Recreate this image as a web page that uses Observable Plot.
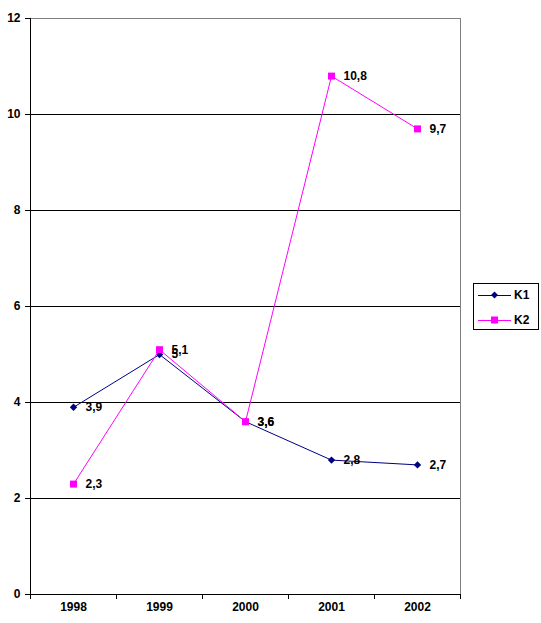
<!DOCTYPE html>
<html>
<head>
<meta charset="utf-8">
<script src="https://cdn.jsdelivr.net/npm/d3@7"></script>
<script src="https://cdn.jsdelivr.net/npm/@observablehq/plot@0.6"></script>
<style>
  html, body { margin: 0; padding: 0; background: #fff; }
  #wrap { position: relative; width: 541px; height: 623px; font-family: "Liberation Sans", Arial, sans-serif; }
  #legend { position: absolute; left: 473px; top: 283px; width: 64px; height: 45px; border: 1px solid #000; background: #fff; }
  .item { position: absolute; left: 4px; height: 14px; display: flex; align-items: center; font-weight: bold; font-size: 12px; color: #000; }
  .item svg { margin-right: 2px; }
</style>
</head>
<body>
<div id="wrap"></div>
<script>
const years = ["1998", "1999", "2000", "2001", "2002"];
const k1 = [3.9, 5, 3.6, 2.8, 2.7];
const k2 = [2.3, 5.1, 3.6, 10.8, 9.7];
const yTicks = [0, 2, 4, 6, 8, 10, 12];
const seriesNames = ["K1", "K2"];
const colors = ["#000080", "#FF00FF"];

const idx = years.map((_, i) => i);
const bounds = d3.range(-0.5, years.length, 1);
const fmt = v => String(v).replace(".", ",");

const diamond = {
  draw(ctx, size) {
    const r = Math.sqrt(size / 2);
    ctx.moveTo(0, -r); ctx.lineTo(r, 0); ctx.lineTo(0, r); ctx.lineTo(-r, 0); ctx.closePath();
  }
};

const rows = s => (s === 0 ? k1 : k2).map((v, i) => ({i, v}));

const chart = Plot.plot({
  width: 541,
  height: 623,
  marginLeft: 30,
  marginRight: 81,
  marginTop: 18,
  marginBottom: 29,
  style: {fontFamily: "'Liberation Sans', Arial, sans-serif", fontSize: "12px", fontWeight: "bold", color: "#000", background: "#fff"},
  x: {type: "linear", domain: [-0.5, years.length - 0.5], label: null},
  y: {domain: [0, 12], label: null},
  marks: [
    Plot.frame({stroke: "#808080"}),
    Plot.ruleY(yTicks.filter(t => t > 0 && t < 12), {stroke: "#000"}),
    Plot.ruleY([0], {stroke: "#000"}),
    Plot.ruleX([-0.5], {stroke: "#000"}),
    Plot.axisY({ticks: yTicks, tickSize: 5, tickPadding: 5, tickFormat: d => String(d), label: null, stroke: "#000", fill: "#000", fontWeight: "bold", fontSize: 12}),
    Plot.axisX({ticks: bounds, tickSize: 5, tickFormat: () => "", label: null, stroke: "#000"}),
    Plot.axisX({ticks: idx, tickSize: 0, tickPadding: 8, tickFormat: i => years[i], label: null, fill: "#000", fontWeight: "bold", fontSize: 12}),
    Plot.line(rows(0), {x: "i", y: "v", stroke: colors[0], strokeWidth: 1}),
    Plot.dot(rows(0), {x: "i", y: "v", symbol: diamond, r: 2.95, fill: colors[0], stroke: "none"}),
    Plot.text(rows(0), {x: "i", y: "v", text: d => fmt(d.v), dx: 12, textAnchor: "start", fill: "#000", fontWeight: "bold", fontSize: 12}),
    Plot.line(rows(1), {x: "i", y: "v", stroke: colors[1], strokeWidth: 1}),
    Plot.dot(rows(1), {x: "i", y: "v", symbol: "square", r: 3.95, fill: colors[1], stroke: "none"}),
    Plot.text(rows(1), {x: "i", y: "v", text: d => fmt(d.v), dx: 12, textAnchor: "start", fill: "#000", fontWeight: "bold", fontSize: 12})
  ]
});

const wrap = document.getElementById("wrap");
wrap.appendChild(chart);

const legend = document.createElement("div");
legend.id = "legend";
seriesNames.forEach((name, s) => {
  const item = document.createElement("div");
  item.className = "item";
  item.style.top = (s === 0 ? 4 : 29) + "px";
  const marker = s === 0
    ? `<path d="M16.5,3.5 L20,7 L16.5,10.5 L13,7 Z" fill="${colors[0]}"/>`
    : `<rect x="13" y="3.5" width="7" height="7" fill="${colors[1]}"/>`;
  item.innerHTML = `<svg width="34" height="14"><line x1="0" x2="33" y1="7.5" y2="7.5" stroke="${colors[s]}" stroke-width="1"/>${marker}</svg><span>${name}</span>`;
  legend.appendChild(item);
});
wrap.appendChild(legend);
</script>
</body>
</html>
